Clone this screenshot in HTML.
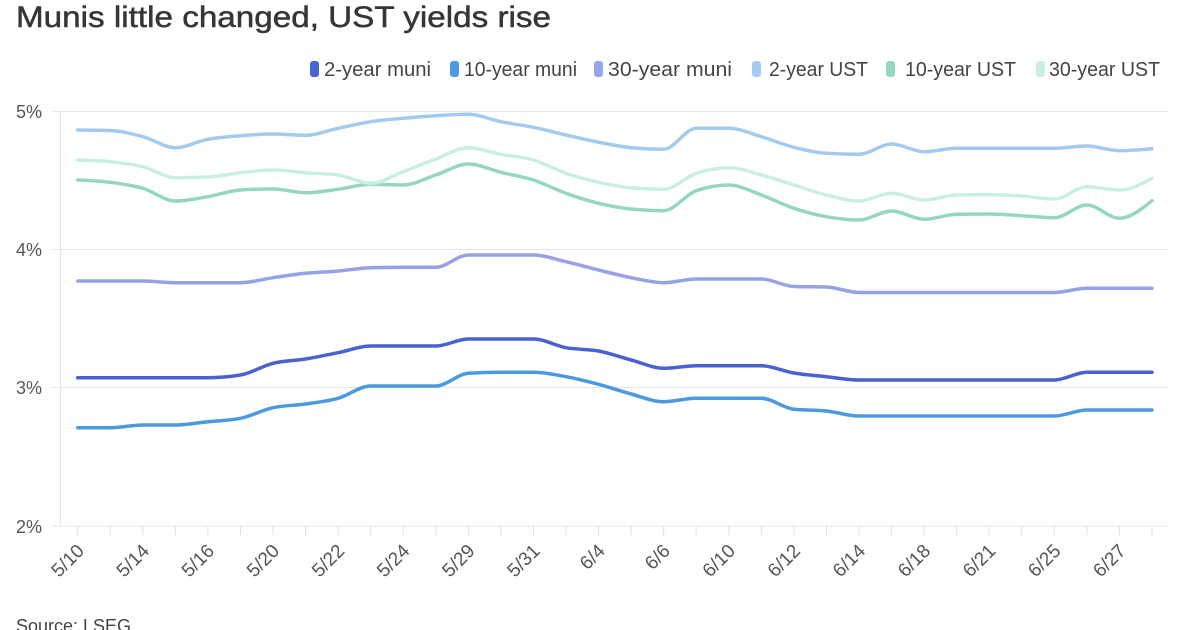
<!DOCTYPE html>
<html>
<head>
<meta charset="utf-8">
<style>
  html,body{margin:0;padding:0;background:#fff;}
  svg{display:block;font-family:"Liberation Sans",Arial,sans-serif;}
</style>
</head>
<body>
<svg id="c" width="1200" height="630" viewBox="0 0 1200 630" xmlns="http://www.w3.org/2000/svg">
  <rect width="1200" height="630" fill="#fff"/>
  <text x="16" y="27" font-size="30" fill="#363636" stroke="#363636" stroke-width="0.5" textLength="535" lengthAdjust="spacingAndGlyphs">Munis little changed, UST yields rise</text>

  <!-- legend -->
  <g font-size="20" fill="#444">
    <rect x="310" y="61" width="9" height="16" rx="3" fill="#4a63d3"/>
    <text x="324" y="76" textLength="107" lengthAdjust="spacingAndGlyphs">2-year muni</text>
    <rect x="450" y="61" width="9" height="16" rx="3" fill="#4c9ae2"/>
    <text x="464" y="76" textLength="113" lengthAdjust="spacingAndGlyphs">10-year muni</text>
    <rect x="594" y="61" width="9" height="16" rx="3" fill="#96a6ea"/>
    <text x="608" y="76" textLength="124" lengthAdjust="spacingAndGlyphs">30-year muni</text>
    <rect x="752" y="61" width="9" height="16" rx="3" fill="#a5cdf2"/>
    <text x="769" y="76" textLength="99" lengthAdjust="spacingAndGlyphs">2-year UST</text>
    <rect x="886" y="61" width="9" height="16" rx="3" fill="#95d6c2"/>
    <text x="905" y="76" textLength="111" lengthAdjust="spacingAndGlyphs">10-year UST</text>
    <rect x="1036" y="61" width="9" height="16" rx="3" fill="#c8efe2"/>
    <text x="1049" y="76" textLength="111" lengthAdjust="spacingAndGlyphs">30-year UST</text>
  </g>

  <!-- grid -->
  <g stroke="#e6e6e6" stroke-width="1">
    <line x1="52" y1="111.5" x2="1168" y2="111.5"/>
    <line x1="52" y1="249.5" x2="1168" y2="249.5"/>
    <line x1="52" y1="387.5" x2="1168" y2="387.5"/>
    <line x1="52" y1="526" x2="1168" y2="526"/>
    <line x1="60.5" y1="111" x2="60.5" y2="526"/>
  </g>
  <g font-size="18" fill="#555">
    <text x="16" y="118">5%</text>
    <text x="16" y="256">4%</text>
    <text x="16" y="394">3%</text>
    <text x="16" y="533">2%</text>
  </g>
  <g id="ticks" stroke="#e0e0e0" stroke-width="1"></g>
  <g id="xl" font-size="19" fill="#555" text-anchor="end"></g>
  <g id="lines" fill="none" stroke-width="3.5" stroke-linejoin="round" stroke-linecap="round"></g>

  <text x="16" y="632" font-size="18" fill="#444">Source: LSEG</text>
</svg>
<script>
(function(){
  var NS="http://www.w3.org/2000/svg";
  var x0=77.7, step=(1152-77.7)/33;
  var X=[]; for(var k=0;k<34;k++) X.push(x0+step*k);
  var tg=document.getElementById('ticks');
  var xl=document.getElementById('xl');
  var labels={0:"5/10",2:"5/14",4:"5/16",6:"5/20",8:"5/22",10:"5/24",12:"5/29",14:"5/31",16:"6/4",18:"6/6",20:"6/10",22:"6/12",24:"6/14",26:"6/18",28:"6/21",30:"6/25",32:"6/27"};
  X.forEach(function(x,k){
    var l=document.createElementNS(NS,'line');
    l.setAttribute('x1',x.toFixed(1));l.setAttribute('x2',x.toFixed(1));
    l.setAttribute('y1',526);l.setAttribute('y2',535);
    tg.appendChild(l);
    if(labels[k]){
      var t=document.createElementNS(NS,'text');
      var px=x+7.5, py=552;
      t.setAttribute('x',px.toFixed(1));t.setAttribute('y',py);
      t.setAttribute('transform','rotate(-45 '+px.toFixed(1)+' '+py+')');
      t.textContent=labels[k];
      xl.appendChild(t);
    }
  });
  var series=[
    ["#4a62cf",[377.7,377.7,377.7,377.7,377.7,375,363.3,359,352.7,346,346,346,339,339,339,347.7,351,360,368.3,365.7,365.7,365.7,373,376.7,380,380,380,380,380,380,380,372.3,372.3,372.3]],
    ["#4b9ae0",[427.7,427.7,425,425,421.7,418.3,407.7,404,398.3,386,386,386,373.3,372.3,372.3,376.7,384.3,394,401.7,398.3,398.3,398.3,409.3,411,416,416,416,416,416,416,416,410,410,410]],
    ["#95a3e3",[281,281,281,282.7,282.7,282.7,277.7,273.3,271,267.7,267.3,267.3,255,255,255,261.7,270,277.7,282.7,279,279,279,286.5,287,292.5,292.5,292.5,292.5,292.5,292.5,292.5,288.3,288.3,288.3]],
    ["#a3cbee",[130,130.5,136.7,147.7,139.3,135.7,134,135.3,128.3,121.7,118.3,115.7,114.3,121.7,127.3,135,142.3,147.7,149.3,128.3,128.3,136.7,147.3,153.3,154.3,144,151.7,148.3,148.3,148.3,148.3,146,150.7,148.7]],
    ["#94d6c0",[180,182.3,188.3,201,196.7,190,189,192.7,189.3,184.3,185,175,164,172.3,180,193.3,203.3,209,210.7,190.7,185,195,208.3,216.7,220,211,219.3,214.3,214,215.7,217.7,205,218.3,200.7]],
    ["#c9efe1",[160,161.7,166.7,177.7,177,172.7,170,172.7,175,183.3,171.7,159,147.7,154.3,160,173.3,182.3,187.7,189.3,173.3,167.7,175,185,195,201,193.3,200,195,194.7,196,199,186.7,190,178.3]]
  ];
  function sign(v){return v<0?-1:1;}
  function monotone(xs,ys){
    var n=xs.length, t=new Array(n);
    for(var i=1;i<n-1;i++){
      var h0=xs[i]-xs[i-1],h1=xs[i+1]-xs[i];
      var s0=(ys[i]-ys[i-1])/h0,s1=(ys[i+1]-ys[i])/h1;
      var p=(s0*h1+s1*h0)/(h0+h1);
      t[i]=(sign(s0)+sign(s1))*Math.min(Math.abs(s0),Math.abs(s1),0.5*Math.abs(p))||0;
    }
    var h=xs[1]-xs[0];
    t[0]=(3*(ys[1]-ys[0])/h-t[1])/2;
    h=xs[n-1]-xs[n-2];
    t[n-1]=(3*(ys[n-1]-ys[n-2])/h-t[n-2])/2;
    var d="M"+xs[0].toFixed(2)+","+ys[0].toFixed(2);
    for(var i=0;i<n-1;i++){
      var dx=(xs[i+1]-xs[i])/3;
      d+="C"+(xs[i]+dx).toFixed(2)+","+(ys[i]+dx*t[i]).toFixed(2)+" "+(xs[i+1]-dx).toFixed(2)+","+(ys[i+1]-dx*t[i+1]).toFixed(2)+" "+xs[i+1].toFixed(2)+","+ys[i+1].toFixed(2);
    }
    return d;
  }
  var lg=document.getElementById('lines');
  series.forEach(function(s){
    var p=document.createElementNS(NS,'path');
    p.setAttribute('d',monotone(X,s[1]));
    p.setAttribute('stroke',s[0]);
    lg.appendChild(p);
  });
})();
</script>
</body>
</html>
